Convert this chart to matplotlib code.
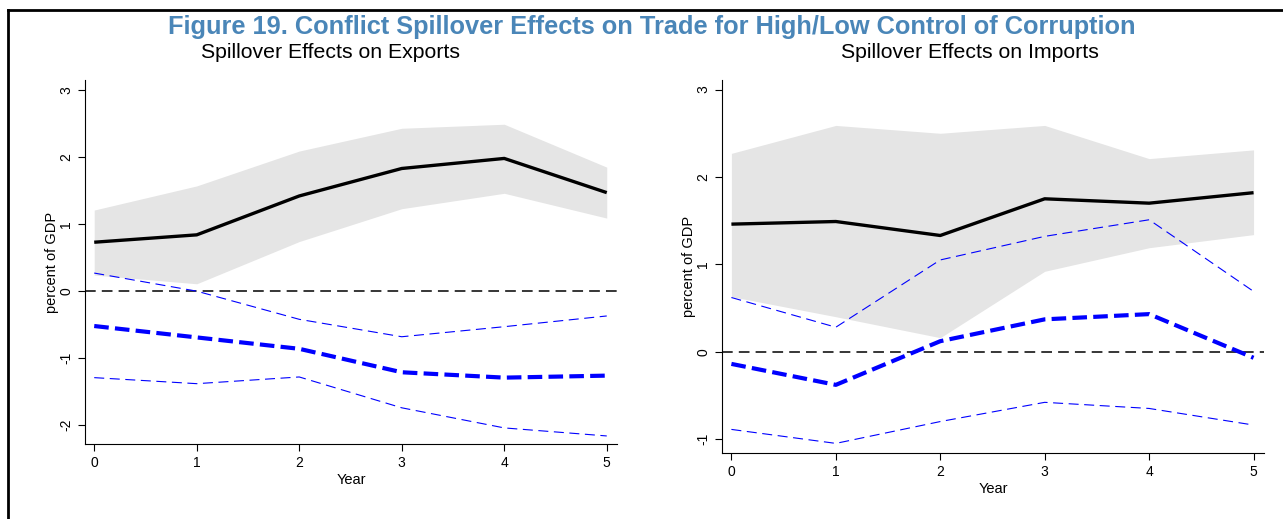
import matplotlib.pyplot as plt
from matplotlib.lines import Line2D

plt.rcParams['font.family'] = ['Liberation Sans', 'DejaVu Sans']

years = [0, 1, 2, 3, 4, 5]

# Exports panel
exp_high = [0.73, 0.84, 1.42, 1.83, 1.98, 1.47]
exp_high_up = [1.21, 1.57, 2.09, 2.43, 2.49, 1.85]
exp_high_lo = [0.24, 0.11, 0.74, 1.23, 1.46, 1.09]
exp_low = [-0.52, -0.69, -0.86, -1.21, -1.29, -1.26]
exp_low_up = [0.27, 0.0, -0.42, -0.68, -0.53, -0.37]
exp_low_lo = [-1.29, -1.38, -1.28, -1.74, -2.04, -2.16]

# Imports panel
imp_high = [1.46, 1.49, 1.33, 1.75, 1.70, 1.82]
imp_high_up = [2.27, 2.59, 2.50, 2.59, 2.21, 2.31]
imp_high_lo = [0.63, 0.40, 0.16, 0.92, 1.19, 1.34]
imp_low = [-0.14, -0.38, 0.12, 0.37, 0.43, -0.07]
imp_low_up = [0.62, 0.28, 1.05, 1.32, 1.51, 0.69]
imp_low_lo = [-0.89, -1.05, -0.80, -0.58, -0.65, -0.84]

exp_yticks = [-2, -1, 0, 1, 2, 3]
imp_yticks = [-1, 0, 1, 2, 3]

fig = plt.figure(figsize=(12.83, 5.19), dpi=100)

# frame lines of the original page
fig.add_artist(Line2D([8 / 1283, 1], [1 - 10 / 519, 1 - 10 / 519], color='black', lw=2))
fig.add_artist(Line2D([8 / 1283, 8 / 1283], [0, 1 - 10 / 519], color='black', lw=2))

fig.text(652 / 1283, 1 - 27 / 519, "Figure 19. Conflict Spillover Effects on Trade for High/Low Control of Corruption",
         ha='center', va='center', fontsize=18.3, fontweight='bold', color='#4a86b8')

ax1 = fig.add_axes([85 / 1283, 1 - 444 / 519, 532 / 1283, 364 / 519])
ax2 = fig.add_axes([722 / 1283, 1 - 453 / 519, 542 / 1283, 373 / 519])


def draw(ax, hi, hi_up, hi_lo, lo, lo_up, lo_lo, yticks, ylim):
    ax.fill_between(years, hi_lo, hi_up, color='#e5e5e5', lw=0)
    ax.axhline(0, color='black', lw=1.1, ls=(0, (7, 4)))
    ax.plot(years, hi, color='black', lw=2.4, solid_capstyle='butt')
    ax.plot(years, lo_up, color='blue', lw=0.8, ls=(0, (9, 5)))
    ax.plot(years, lo_lo, color='blue', lw=0.8, ls=(0, (9, 5)))
    ax.plot(years, lo, color='blue', lw=3.0, ls=(0, (3.5, 1.5)))
    ax.set_xlim(-0.09, 5.1)
    ax.set_ylim(*ylim)
    ax.set_xticks(years)
    ax.set_yticks(yticks)
    ax.set_yticklabels([str(t) for t in yticks], rotation=90, va='center')
    ax.spines['top'].set_visible(False)
    ax.spines['right'].set_visible(False)
    ax.tick_params(direction='out', length=5, width=0.8, labelsize=10)
    ax.set_xlabel("Year", fontsize=10.5, labelpad=2)
    ax.set_ylabel("percent of GDP", fontsize=10.5, labelpad=0)


draw(ax1, exp_high, exp_high_up, exp_high_lo, exp_low, exp_low_up, exp_low_lo,
     exp_yticks, (-2.28, 3.15))
draw(ax2, imp_high, imp_high_up, imp_high_lo, imp_low, imp_low_up, imp_low_lo,
     imp_yticks, (-1.16, 3.11))

fig.text(330 / 1283, 1 - 53 / 519, "Spillover Effects on Exports", ha='center', va='center', fontsize=15.3)
fig.text(970 / 1283, 1 - 53 / 519, "Spillover Effects on Imports", ha='center', va='center', fontsize=15.3)

fig.savefig("out.png", dpi=100)
